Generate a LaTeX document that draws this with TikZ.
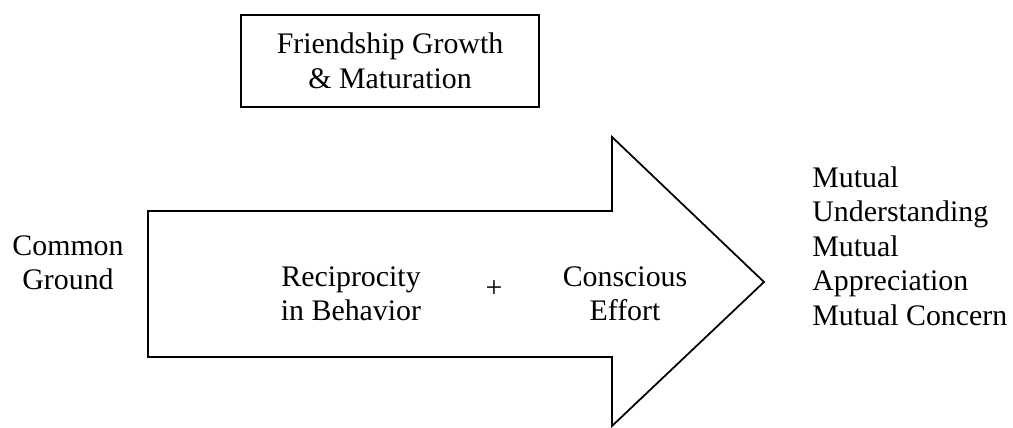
\documentclass[tikz,border=0pt]{standalone}
\usepackage{fontspec}
\setmainfont{Liberation Serif}
\usetikzlibrary{positioning}
\newcommand{\diagfont}{\fontsize{17}{19.6}\selectfont}
\tikzset{
    x=0.02cm, y=-0.02cm,
    textblock/.style={
      align=center,
      inner sep=0pt,
      font=\diagfont},
    framebox/.style={
      rectangle,
      draw=black, line width=1pt,
      minimum width=5.96cm,
      minimum height=1.84cm,
      align=center,
      inner sep=0pt,
      font=\diagfont},
    bigarrow/.style={draw=black, line width=1pt, line join=miter},
}

\begin{document}
\begin{tikzpicture}
    \useasboundingbox (0,0) rectangle (1013,428);
    % the big arrow
    \draw[bigarrow] (148,211) -- (612,211) -- (612,137) -- (764,282)
        -- (612,426) -- (612,357) -- (148,357) -- cycle;
    \node[framebox] (growth) at (390,61) {Friendship Growth\\ \& Maturation};
    \node[textblock] (ground) at (68,263) {Common\\ Ground};
    \node[textblock] (recip) at (351,294) {Reciprocity\\ in Behavior};
    \node[textblock] (plus) at (494,289) {+};
    \node[textblock] (effort) at (625,294) {Conscious\\ Effort};
    \node[textblock, align=left, anchor=west] (mutual) at (812,246)
        {Mutual\\ Understanding\\ Mutual\\ Appreciation\\ Mutual Concern};
\end{tikzpicture}
\end{document}
